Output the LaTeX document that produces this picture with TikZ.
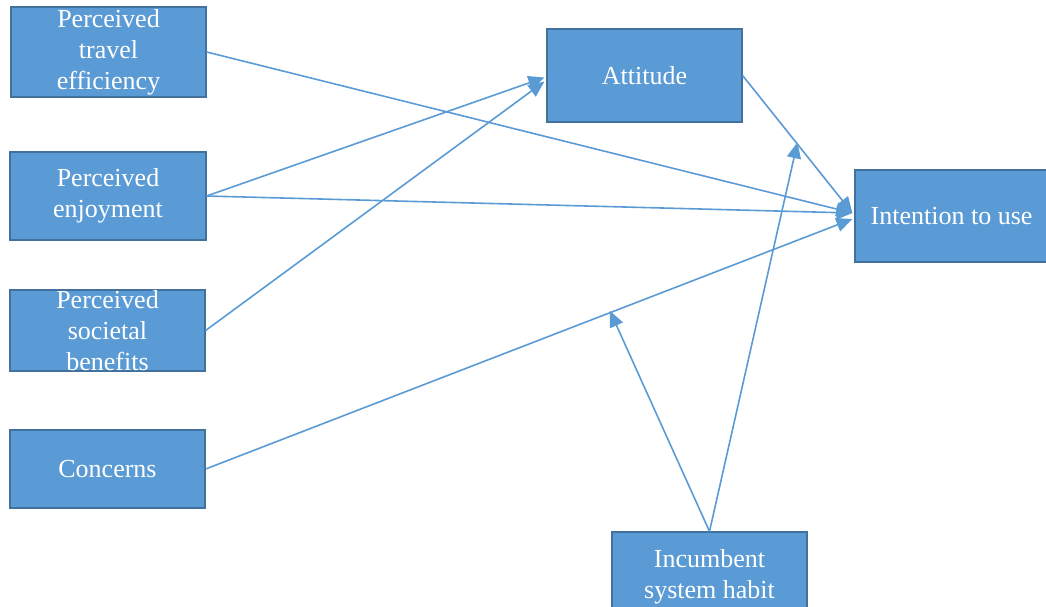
\documentclass[tikz,border=0pt]{standalone}
\usepackage{fontspec}
\setmainfont{Liberation Serif}
\usetikzlibrary{arrows.meta,calc}
\definecolor{boxfill}{HTML}{5B9BD5}
\definecolor{boxline}{HTML}{41719C}
\definecolor{linkcol}{HTML}{5B9BD5}
\begin{document}
\begin{tikzpicture}[x=1pt,y=-1pt,
  box/.style={draw=boxline,line width=1.2pt,fill=boxfill,text=white,align=center,
    inner sep=0pt,font=\fontsize{26}{31}\selectfont},
  link/.style={draw=linkcol,line width=1.6pt,
    -{Triangle[length=16pt,width=14pt]}}]
\useasboundingbox (0,0) rectangle (1046,606);
% predictors on the left
\node[box,minimum width=195pt,minimum height=90pt] (pte) at (108.5,52) {Perceived\\travel\\efficiency};
\node[box,minimum width=196pt,minimum height=88pt] (pe) at (108,196) {Perceived\\enjoyment};
\node[box,minimum width=195pt,minimum height=81pt] (psb) at (107.5,330.5) {Perceived\\societal\\benefits};
\node[box,minimum width=195pt,minimum height=78pt] (con) at (107.5,469) {Concerns};
% mediator and outcome
\node[box,minimum width=195pt,minimum height=93pt] (att) at (644.5,75.5) {Attitude};
\node[box,minimum width=193pt,minimum height=92pt] (itu) at (951.5,216) {Intention to use};
% moderator
\node[box,minimum width=195pt,minimum height=90pt] (ish) at (709.5,577) {Incumbent\\system habit};
% direct paths
\coordinate (ituin) at ($(itu.west)+(-2,-3)$);
\draw[link] (pte.east) -- (ituin);
\draw[link] (pe.east) -- ($(att.west)+(-2,2)$);
\draw[link] (pe.east) -- (ituin);
\draw[link] (psb.east) -- ($(att.west)+(-2,6)$);
\draw[link] (con.east) -- ($(itu.west)+(-2,3)$);
\draw[link] (att.east) -- (ituin);
% moderating paths
\coordinate (mA) at ($(att.east)!0.5!(ituin)$);
\coordinate (mC) at ($(con.east)!0.625!($(itu.west)+(-2,3)$)$);
\draw[link] (ish.north) -- ($(mA)+(0,-2)$);
\draw[link] (ish.north) -- ($(mC)+(0,-2)$);
\end{tikzpicture}
\end{document}
